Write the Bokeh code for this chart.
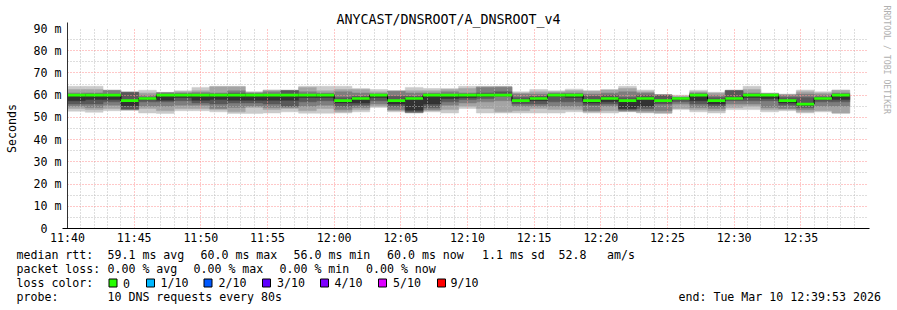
import math
from bokeh.plotting import figure
from bokeh.models import FixedTicker, Range1d
from bokeh.core.properties import value
from bokeh.embed import file_html
from bokeh.resources import INLINE

# ---------------- data ----------------
title_text = "ANYCAST/DNSROOT/A_DNSROOT_v4"
step_seconds = 80
x_tick_minutes = [0, 5, 10, 15, 20, 25, 30, 35, 40, 45, 50, 55]
x_tick_labels = ["11:40", "11:45", "11:50", "11:55", "12:00", "12:05",
                 "12:10", "12:15", "12:20", "12:25", "12:30", "12:35"]
y_ticks = [0, 10, 20, 30, 40, 50, 60, 70, 80, 90]
y_tick_labels = ["0\u00a0\u00a0", "10 m", "20 m", "30 m", "40 m", "50 m",
                 "60 m", "70 m", "80 m", "90 m"]

median_rtt = [60, 60, 60, 57.5, 58.5, 60, 60, 60, 60, 60, 60, 60, 60, 60, 60,
              57.5, 58.5, 60, 57.5, 58.5, 60, 60, 60, 60, 60, 57.5, 58.5, 60,
              60, 57.5, 58.5, 57.5, 58.5, 57.5, 58.5, 60, 57.5, 58.5, 60, 60,
              57.5, 56, 58.5, 60]

# sorted ping times per 80 s step (ms), ping_01 = fastest ... ping_10 = slowest
ping_01 = [52.8, 52.3, 53.0, 53.2, 52.0, 51.8, 53.0, 53.0, 52.5, 51.8, 51.8, 52.0, 52.5, 51.9, 51.9,
           52.0, 52.5, 54.5, 52.5, 52.0, 52.5, 52.0, 54.0, 52.0, 52.0, 52.0, 52.0, 52.0, 52.5, 52.0,
           52.0, 52.5, 52.0, 51.8, 53.5, 52.5, 52.0, 53.5, 53.5, 52.5, 53.0, 52.0, 52.5, 51.8]
ping_02 = [54.0, 53.5, 54.0, 53.3, 54.0, 53.0, 54.0, 54.0, 53.5, 52.5, 54.5, 53.5, 54.0, 53.0, 54.0,
           52.5, 53.5, 55.0, 53.0, 52.1, 53.0, 53.5, 55.0, 54.0, 52.5, 53.0, 54.0, 53.5, 53.5, 52.5,
           53.0, 52.7, 52.3, 52.0, 54.0, 53.5, 53.0, 54.5, 55.0, 53.5, 53.5, 52.5, 53.0, 52.0]
ping_03 = [55.0, 54.5, 55.5, 53.5, 55.0, 55.0, 55.5, 55.5, 54.0, 54.5, 55.0, 54.5, 54.5, 55.0, 55.5,
           53.5, 54.5, 56.0, 53.5, 52.2, 53.5, 55.5, 56.5, 57.0, 57.5, 55.0, 55.0, 55.0, 55.0, 53.0,
           55.0, 53.0, 53.0, 53.0, 56.0, 54.5, 54.0, 56.0, 56.0, 54.5, 54.0, 53.5, 55.0, 55.0]
ping_04 = [56.0, 56.0, 57.0, 53.8, 57.0, 57.0, 57.5, 56.5, 56.0, 56.5, 56.5, 56.0, 55.0, 57.0, 57.5,
           55.0, 55.5, 57.5, 55.0, 52.5, 54.5, 57.0, 58.0, 58.5, 59.5, 56.0, 56.0, 57.0, 57.0, 55.5,
           56.0, 53.5, 54.0, 56.0, 57.0, 56.0, 55.0, 57.5, 57.5, 57.5, 55.5, 54.5, 57.0, 57.0]
ping_05 = [57.5, 58.0, 58.0, 55.2, 58.0, 57.7, 59.0, 57.7, 58.0, 57.7, 57.7, 57.7, 57.7, 59.0, 59.0,
           56.5, 56.5, 59.0, 56.0, 53.2, 56.0, 58.5, 59.0, 59.5, 59.8, 57.0, 57.5, 59.5, 59.0, 56.5,
           57.0, 54.0, 55.0, 57.0, 58.0, 57.5, 56.0, 58.0, 59.0, 58.5, 56.5, 55.5, 58.0, 58.0]
ping_06 = [60.0, 60.0, 60.0, 57.5, 58.5, 60.0, 60.0, 60.0, 60.0, 60.0, 60.0, 60.0, 60.0, 60.0, 60.0,
           57.5, 58.5, 60.0, 57.5, 58.5, 60.0, 60.0, 60.0, 60.0, 60.0, 57.5, 58.5, 60.0, 60.0, 57.5,
           58.5, 57.5, 58.5, 57.5, 58.5, 60.0, 57.5, 58.5, 60.0, 60.0, 57.5, 56.0, 58.5, 60.0]
ping_07 = [60.3, 60.5, 60.5, 61.2, 59.0, 60.5, 60.5, 60.5, 60.5, 61.0, 60.5, 60.5, 62.0, 60.5, 60.5,
           59.0, 59.5, 60.3, 59.5, 59.5, 60.5, 60.5, 60.5, 61.0, 61.5, 59.0, 59.5, 60.5, 60.5, 59.5,
           60.0, 59.0, 60.0, 60.0, 58.8, 60.5, 59.0, 62.0, 60.5, 60.3, 59.0, 59.0, 59.2, 60.5]
ping_08 = [61.0, 61.0, 62.1, 61.3, 60.0, 61.1, 61.0, 61.2, 61.0, 62.0, 61.0, 61.5, 62.1, 61.5, 61.0,
           61.5, 61.0, 60.7, 61.8, 61.0, 61.0, 61.5, 61.0, 63.5, 63.6, 60.5, 60.5, 61.0, 61.0, 60.5,
           61.0, 61.5, 61.0, 60.1, 59.0, 61.0, 60.0, 62.1, 61.0, 60.6, 60.0, 60.5, 60.2, 61.0]
ping_09 = [62.5, 62.5, 62.2, 61.4, 61.0, 61.2, 61.5, 62.0, 63.8, 63.8, 61.3, 62.2, 62.2, 63.5, 62.0,
           62.5, 62.5, 61.5, 61.9, 62.0, 62.0, 62.5, 63.0, 63.8, 63.8, 61.0, 61.5, 61.5, 62.0, 61.8,
           62.3, 63.0, 61.5, 60.2, 59.5, 61.5, 61.0, 62.2, 62.5, 60.8, 60.3, 61.5, 61.0, 62.2]
ping_10 = [64.0, 64.0, 62.3, 61.5, 62.2, 61.3, 62.0, 63.5, 64.0, 64.0, 61.5, 62.3, 62.3, 64.0, 64.0,
           64.0, 63.0, 62.5, 62.0, 63.5, 63.0, 63.0, 64.0, 64.0, 64.0, 61.5, 62.5, 62.0, 62.7, 62.0,
           62.5, 64.0, 62.3, 60.3, 60.0, 62.2, 61.3, 62.3, 64.0, 61.0, 60.5, 62.3, 61.5, 62.3]

smoke_greys = ["#cacaca", "#a4a4a4", "#7e7e7e", "#585858", "#323232"]
loss_labels = ["0", "1/10", "2/10", "3/10", "4/10", "5/10", "9/10"]
loss_colors = ["#26ff00", "#00b8ff", "#0059ff", "#5e00ff", "#7e00ff", "#dd00ff", "#ff0000"]

rtt_stats = ["59.1 ms avg", "60.0 ms max", "56.0 ms min", "60.0 ms now", "1.1 ms sd", "52.8", "am/s"]
loss_stats = ["0.00 % avg", "0.00 % max", "0.00 % min", "0.00 % now"]
probe_text = "10 DNS requests every 80s"
end_text = "end: Tue Mar 10 12:39:53 2026"
credit_text = "RRDTOOL / TOBI OETIKER"

# ---------------- layout ----------------
W, H = 897, 310
FL, FR, FT, FB = 67, 867, 28, 228          # plot frame in pixels
XMIN, XMAX = 0, 60                          # minutes after 11:40
YMIN, YMAX = 0, 90                          # ms

def dx(px):
    return XMIN + (px - FL) / (FR - FL) * (XMAX - XMIN)

def dy(py):
    return YMIN + (FB - py) / (FB - FT) * (YMAX - YMIN)

MONO = "DejaVu Sans Mono"
FS = "11.6px"

p = figure(width=W, height=H, x_range=Range1d(XMIN, XMAX), y_range=Range1d(YMIN, YMAX),
           output_backend="svg", toolbar_location=None,
           min_border_left=FL, min_border_right=W - FR,
           min_border_top=FT, min_border_bottom=H - FB)
p.outline_line_color = None
p.background_fill_color = "white"
p.border_fill_color = "white"

# axes
xa = p.xaxis[0]
xa.ticker = FixedTicker(ticks=x_tick_minutes,
                        minor_ticks=[m for m in range(XMIN, XMAX) if m % 5])
xa.major_label_overrides = dict(zip(x_tick_minutes, x_tick_labels))
ya = p.yaxis[0]
ya.ticker = FixedTicker(ticks=y_ticks, minor_ticks=[t + 5 for t in y_ticks[:-1]])
ya.major_label_overrides = dict(zip(y_ticks, y_tick_labels))
for ax in (xa, ya):
    ax.axis_line_color = None
    ax.major_tick_line_color = None
    ax.minor_tick_line_color = None
    ax.major_tick_out = 0
    ax.major_tick_in = 0
    ax.minor_tick_out = 0
    ax.minor_tick_in = 0
    ax.major_label_text_font = MONO
    ax.major_label_text_font_size = FS
    ax.major_label_text_color = "#000000"
xa.major_label_standoff = 2
ya.major_label_standoff = 6

for g in (p.xgrid[0], p.ygrid[0]):
    g.grid_line_color = "#ff9090"
    g.grid_line_dash = "1 2"
    g.grid_line_width = 1
    g.minor_grid_line_color = "#bdbdbd"
    g.minor_grid_line_dash = "1 2"
    g.minor_grid_line_width = 1

# smoke
n = len(median_rtt)
step_min = step_seconds / 60.0
t_left = [i * step_min for i in range(n)]
t_right = [(i + 1) * step_min for i in range(n)]
pings = [ping_01, ping_02, ping_03, ping_04, ping_05, ping_06, ping_07, ping_08, ping_09, ping_10]
for k in range(5):
    r = p.quad(left=t_left, right=t_right, bottom=pings[k], top=pings[9 - k],
               fill_color=smoke_greys[k], line_color=smoke_greys[k], line_width=0.5)
    r.level = "image"

# median
p.step(x=t_left + [t_right[-1]], y=median_rtt + [median_rtt[-1]], mode="after",
       line_color="#000000", line_width=1)
p.segment(x0=t_left, x1=t_right, y0=median_rtt, y1=median_rtt,
          line_color=loss_colors[0], line_width=2.7)

# ---- everything outside the frame: glyphs on the (unclipped) overlay level ----
def over(r):
    r.level = "overlay"
    return r

head_c = "#8b1a1a"
over(p.segment(x0=[dx(FL), dx(62)], y0=[dy(FB), dy(FB)], x1=[dx(FL), dx(869)], y1=[dy(22), dy(FB)],
               line_color=["#303030", "#000000"], line_width=1))
over(p.patches(xs=[[dx(64), dx(70), dx(67)], [dx(868.5), dx(868.5), dx(874.5)]],
               ys=[[dy(26.5), dy(26.5), dy(20.5)], [dy(225), dy(231), dy(228)]],
               fill_color=head_c, line_color=head_c, line_width=1))

def txt(strings, pxs, pys, size=FS, align="left", angle=0.0, color="#000000"):
    over(p.text(x=[dx(v) for v in pxs], y=[dy(v) for v in pys], text=strings,
                text_font=value(MONO), text_font_size=value(size),
                text_align=align, text_baseline="middle", angle=angle, text_color=color))

txt([title_text], [448], [19], size="13.3px", align="center")
txt(["Seconds"], [11], [128], align="center", angle=math.pi / 2)
txt([credit_text], [886], [5], size="8.2px", angle=-math.pi / 2, color="#b0b0b0")

# legend rows
row1, row2, row3, row4 = 254, 268, 282.5, 296
rtt_x = [107, 200, 293, 386.5, 481.5, 558, 606.5]
loss_x = [107, 193, 279, 365.5]
box_x = [108.5, 146, 203.5, 262, 320, 378, 437]
lab_x = [122.5, 160, 218, 276.5, 334, 392.5, 450]

txt(["median rtt:"] + rtt_stats, [16] + rtt_x, [row1] * (1 + len(rtt_stats)))
txt(["packet loss:"] + loss_stats, [16] + loss_x, [row2] * (1 + len(loss_stats)))
txt(["loss color:"] + loss_labels, [16] + lab_x, [row3] * (1 + len(loss_labels)))
txt(["probe:", probe_text, end_text], [16, 107, 678], [row4] * 3)
over(p.quad(left=[dx(b) for b in box_x], right=[dx(b + 8) for b in box_x],
            top=[dy(278.5)] * len(box_x), bottom=[dy(286.5)] * len(box_x),
            fill_color=loss_colors, line_color="#000000", line_width=1))

open("out.html", "w").write(file_html(p, INLINE))
